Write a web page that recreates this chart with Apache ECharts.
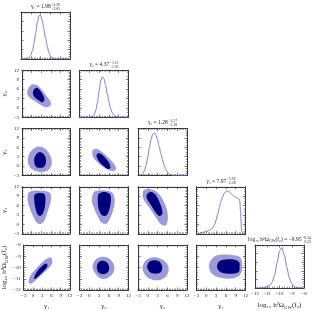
<!DOCTYPE html>
<html><head><meta charset="utf-8">
<script src="https://cdn.jsdelivr.net/npm/echarts@6/dist/echarts.min.js"></script>
<style>html,body{margin:0;padding:0;background:#fff}#c{width:317px;height:311px}</style>
</head><body><div id="c"></div>
<script>
// ---------- DATA ----------
const axisNames = ['γ₁','γ₂','γ₃','γ₄','{a|log₁₀ h²Ω}{s|GW}{a|(f₀)}'];
const gammaTicks = [-3, 0, 3, 6, 9, 12];
const logTicks = [-12, -11, -10, -9, -8];

const titleMain = [
  '{a|γ₁ = 1.98}', '{a|γ₂ = 4.37}', '{a|γ₃ = 1.28}', '{a|γ₄ = 7.97}',
  '{a|log₁₀ h²Ω}{s|GW}{a|(f₀) = −9.95}'
];
const titleUp = ['+1.20', '+1.11', '+1.57', '+1.92', '+0.34'];
const titleLo = ['−2.05', '−1.05', '−1.18', '−2.28', '−0.33'];

// 1D marginal densities
const gX = [-3,-2.5,-2,-1.5,-1,-0.5,0,0.5,1,1.5,2,2.5,3,3.5,4,4.5,5,5.5,6,6.5,7,7.5,8,8.5,9,9.5,10,10.5,11,11.5,12];
const g1Density = [0,0,0,0.003,0.01,0.03,0.08,0.18,0.34,0.55,0.78,0.92,0.93,0.82,0.64,0.45,0.28,0.15,0.07,0.03,0.01,0.003,0,0,0,0,0,0,0,0,0];
const g2Density = [0,0,0,0,0,0,0,0.005,0.02,0.06,0.15,0.32,0.56,0.78,0.86,0.82,0.68,0.5,0.33,0.19,0.1,0.045,0.018,0.005,0,0,0,0,0,0,0];
const g3Density = [0,0.005,0.015,0.04,0.1,0.22,0.4,0.6,0.77,0.88,0.91,0.86,0.75,0.61,0.47,0.33,0.22,0.13,0.07,0.035,0.015,0.005,0,0,0,0,0,0,0,0,0];
const g4X = [-3,-2.5,-2,-1.5,-1,-0.5,0,0.5,1,1.5,2,2.5,3,3.5,4,4.5,5,5.5,6,6.5,7,7.5,8,8.5,9,9.5,10,10.25,10.5,10.75,11,11.5,12];
const g4Density = [0,0.003,0.01,0.02,0.03,0.04,0.05,0.065,0.08,0.1,0.13,0.19,0.29,0.42,0.56,0.69,0.79,0.86,0.9,0.91,0.89,0.86,0.83,0.8,0.78,0.76,0.74,0.7,0.45,0.12,0.02,0,0];
const logX = [-12,-11.8,-11.6,-11.4,-11.2,-11,-10.8,-10.6,-10.4,-10.2,-10,-9.8,-9.6,-9.4,-9.2,-9,-8.8,-8.6,-8.4,-8.2,-8];
const logDensity = [0,0,0,0.005,0.015,0.03,0.06,0.13,0.3,0.58,0.86,0.94,0.76,0.48,0.24,0.1,0.035,0.01,0.003,0,0];

// 2D credible contours (data coordinates: [x, y])
const c10Outer = [[-1.4,4.8],[-0.8,6.6],[0.2,7.5],[1.6,7.3],[3.0,6.0],[4.6,3.9],[6.0,1.9],[5.8,0.6],[4.5,0.2],[3.0,0.8],[1.2,2.0],[-0.6,3.2]];
const c10Inner = [[0.4,4.6],[0.8,5.9],[1.6,6.4],[2.6,5.6],[3.6,4.0],[4.0,2.5],[3.3,1.8],[2.2,2.4],[1.0,3.4]];
const c20Outer = [[-1.2,1.5],[-0.9,3.5],[0.2,5.2],[1.8,6.2],[3.3,6.1],[4.8,5.0],[6.0,3.0],[6.3,0.8],[5.5,-1.0],[3.5,-1.9],[1.3,-1.6],[-0.4,-0.5]];
const c20Inner = [[0.8,1.6],[1.1,3.2],[2.0,4.3],[3.2,4.3],[4.2,3.2],[4.5,1.3],[3.9,-0.2],[2.6,-0.55],[1.4,-0.2]];
const c30Outer = [[-1.0,10.0],[0.5,10.7],[2.5,10.7],[4.5,10.6],[5.8,10.0],[6.1,8.5],[5.8,6.5],[5.0,4.0],[4.0,1.2],[2.8,0.1],[1.6,0.6],[0.5,2.5],[-0.5,5.0],[-1.2,7.5]];
const c30Inner = [[0.9,9.3],[1.8,9.9],[3.4,9.9],[4.2,9.2],[4.3,7.0],[3.9,4.5],[3.0,2.8],[2.0,3.0],[1.3,4.8],[0.9,7.0]];
const c40Outer = [[-1.4,-11.3],[-0.7,-11.45],[1.0,-11.1],[2.8,-10.65],[4.6,-10.2],[5.9,-9.8],[6.3,-9.4],[5.8,-9.1],[4.3,-9.25],[2.6,-9.65],[0.8,-10.15],[-0.9,-10.75]];
const c40Inner = [[0.3,-11.0],[1.2,-10.9],[2.6,-10.55],[4.0,-10.15],[4.7,-9.85],[4.3,-9.65],[2.8,-9.9],[1.3,-10.35]];
const c21Outer = [[0.9,4.6],[1.3,5.4],[2.4,5.5],[4.0,4.4],[5.8,2.7],[7.4,1.0],[8.2,-0.6],[7.6,-1.5],[6.0,-1.3],[4.2,-0.3],[2.4,1.3],[1.1,3.1]];
const c21Inner = [[2.2,3.3],[2.8,4.1],[3.8,3.7],[5.2,2.3],[6.3,0.6],[6.4,-0.6],[5.6,-0.9],[4.4,0.0],[3.0,1.5]];
const c31Outer = [[1.4,10.3],[3.0,10.8],[5.0,10.8],[6.8,10.3],[7.6,9.0],[7.8,7.0],[7.3,4.5],[6.4,2.0],[5.2,0.2],[3.8,0.5],[2.6,2.5],[1.5,5.0],[0.8,7.5]];
const c31Inner = [[2.8,9.6],[3.8,10.2],[5.3,10.2],[6.4,9.5],[6.6,7.5],[6.2,5.0],[5.3,2.9],[4.0,2.8],[3.0,4.5],[2.6,7.0]];
const c41Outer = [[1.0,-10.0],[1.4,-9.5],[2.6,-9.15],[4.3,-9.05],[6.0,-9.2],[7.3,-9.6],[7.7,-10.1],[7.0,-10.6],[5.4,-10.95],[3.8,-11.0],[2.3,-10.7]];
const c41Inner = [[2.3,-10.0],[2.8,-9.55],[4.0,-9.4],[5.4,-9.55],[6.1,-10.0],[5.6,-10.45],[4.2,-10.6],[2.9,-10.45]];
const c32Outer = [[-1.6,9.8],[-1.2,11.0],[0.3,11.3],[2.2,10.8],[3.8,9.2],[5.0,7.0],[5.9,4.5],[6.1,1.5],[5.4,-0.4],[4.0,0.0],[2.6,2.0],[1.0,4.5],[-0.6,6.8],[-1.5,8.5]];
const c32Inner = [[-0.4,9.0],[0.2,10.1],[1.5,10.2],[2.5,9.3],[3.4,7.5],[4.3,5.0],[4.4,3.2],[3.5,2.7],[2.4,3.8],[1.2,5.8],[0.1,7.5]];
const c42Outer = [[-1.6,-10.1],[-1.0,-9.5],[0.6,-9.15],[2.6,-9.1],[4.6,-9.3],[6.0,-9.7],[6.4,-10.2],[5.6,-10.8],[3.8,-11.1],[1.6,-11.1],[-0.4,-10.8]];
const c42Inner = [[-0.2,-9.95],[0.4,-9.5],[1.8,-9.35],[3.4,-9.45],[4.4,-9.9],[4.0,-10.4],[2.4,-10.55],[0.8,-10.45]];
const c43Outer = [[0.8,-9.9],[1.4,-9.35],[3.0,-8.95],[5.5,-8.85],[8.5,-8.9],[10.4,-9.1],[11.0,-9.7],[10.8,-10.4],[9.5,-10.85],[6.5,-11.0],[3.5,-10.85],[1.6,-10.5]];
const c43Inner = [[3.3,-9.9],[4.0,-9.45],[6.0,-9.28],[8.6,-9.3],[10.0,-9.5],[10.2,-10.0],[9.9,-10.4],[8.0,-10.55],[5.5,-10.5],[3.9,-10.3]];

// ---------- STYLE / LAYOUT ----------
const FONT = 'Liberation Serif';
const LIGHT = '#9b9bd8', DARK = '#00007f', LINE = '#5c5cc4', FRAME = '#3a3a3a';
const L0 = 21, T0 = 12, PX = 58.5, PY = 58.25, W = 49, H = 47;

const diag = [[gX,g1Density],[gX,g2Density],[gX,g3Density],[g4X,g4Density],[logX,logDensity]];
const contours = {
  '1,0':[c10Outer,c10Inner], '2,0':[c20Outer,c20Inner], '3,0':[c30Outer,c30Inner], '4,0':[c40Outer,c40Inner],
  '2,1':[c21Outer,c21Inner], '3,1':[c31Outer,c31Inner], '4,1':[c41Outer,c41Inner],
  '3,2':[c32Outer,c32Inner], '4,2':[c42Outer,c42Inner], '4,3':[c43Outer,c43Inner]
};

function range(i){
  const t = i === 4 ? logTicks : gammaTicks;
  return {min:t[0], max:t[t.length-1], interval:t[1]-t[0], minor: i===4 ? 5 : 6};
}
const richName = {
  a:{fontFamily:FONT,fontSize:7,color:'#222',lineHeight:9},
  s:{fontFamily:FONT,fontSize:4.8,color:'#222',lineHeight:9,verticalAlign:'bottom',padding:[3,0,0,0]}
};
function axisCfg(dim, gi, rg, pos, labels, name){
  return {
    type:'value', gridIndex:gi, position:pos, min:rg.min, max:rg.max, interval:rg.interval,
    axisLine:{show:true,onZero:false,lineStyle:{color:FRAME,width:1}},
    axisTick:{show:true,inside:true,length:2.5,lineStyle:{color:FRAME,width:0.7}},
    minorTick:{show:true,splitNumber:rg.minor,length:1.3,lineStyle:{color:FRAME,width:0.6}},
    splitLine:{show:false}, minorSplitLine:{show:false},
    axisLabel:{show:labels,fontSize:5,fontFamily:FONT,color:'#222',margin:3,
      showMinLabel:true,showMaxLabel:true,hideOverlap:false,
      formatter:v => (v<0 ? '−'+Math.abs(v) : String(v))},
    name:name||'', nameLocation:'middle', nameGap: dim==='x' ? 13 : 14, nameRotate: dim==='y' ? 90 : 0,
    nameTextStyle:{fontFamily:FONT,fontSize:7,color:'#222',rich:richName},
    axisPointer:{show:false}
  };
}

const grids=[], xAxes=[], yAxes=[], series=[], graphics=[];
for (let r=0;r<5;r++) for (let c=0;c<=r;c++){
  const gi = grids.length;
  grids.push({left:L0+c*PX, top:T0+r*PY, width:W, height:H});
  const xr = range(c);
  const yr = r===c ? {min:0,max:1,interval:0.2,minor:4} : range(r);
  const showX = r===4, showY = (c===0 && r>0);
  xAxes.push(axisCfg('x',gi,xr,'bottom',showX,showX?axisNames[c]:null));
  xAxes.push(axisCfg('x',gi,xr,'top',false,null));
  yAxes.push(axisCfg('y',gi,yr,'left',showY,showY?axisNames[r]:null));
  yAxes.push(axisCfg('y',gi,yr,'right',false,null));
  if (r===c){
    const [xs, ys] = diag[c];
    series.push({type:'line', xAxisIndex:2*gi, yAxisIndex:2*gi, data: xs.map((x,k)=>[x,ys[k]]),
      showSymbol:false, smooth:0.3, smoothMonotone:'x', silent:true, clip:true,
      lineStyle:{color:LINE,width:0.8}});
  } else {
    const [outer, inner] = contours[r+','+c];
    [[outer,LIGHT],[inner,DARK]].forEach(([pts,col],k)=>{
      series.push({type:'custom', coordinateSystem:'cartesian2d', xAxisIndex:2*gi, yAxisIndex:2*gi,
        data:pts, encode:{x:0,y:1}, silent:true, clip:true, z:2+k,
        renderItem:(params, api)=>{
          if (params.dataIndex!==0) return null;
          return {type:'polygon', shape:{points:pts.map(p=>api.coord(p)), smooth:0.35}, style:{fill:col}};
        }});
    });
  }
}

// titles above diagonal panels
const mctx = document.createElement('canvas').getContext('2d');
function tw(txt, fs){ mctx.font = fs+'px "'+FONT+'"'; return mctx.measureText(txt).width; }
const TF = 5.5, SF = 3.8;
const titleRich = {
  a:{fontFamily:FONT,fontSize:TF,fill:'#222',lineHeight:7},
  s:{fontFamily:FONT,fontSize:4,fill:'#222',lineHeight:7,verticalAlign:'bottom',padding:[2,0,0,0]}
};
for (let c=0;c<5;c++){
  const cx = L0 + c*PX + W/2, cy = T0 + c*PY - 5.5;
  const parts = titleMain[c].match(/\{(\w)\|([^}]*)\}/g).map(s=>{const m=s.match(/\{(\w)\|([^}]*)\}/);return [m[1],m[2]];});
  const mainW = parts.reduce((a,[k,t])=>a+tw(t, k==='a'?TF:4),0);
  const supW = Math.max(tw(titleUp[c],SF), tw(titleLo[c],SF));
  const x0 = cx - (mainW + 0.6 + supW)/2;
  graphics.push({type:'text', x:x0, y:cy, z:100,
    style:{text:titleMain[c], rich:titleRich, x:0, y:0, textAlign:'left', align:'left', textVerticalAlign:'middle', verticalAlign:'middle', fill:'#222', font:TF+'px "'+FONT+'"'}});
  graphics.push({type:'text', x:x0+mainW+0.6, y:cy-1.9, z:100,
    style:{text:titleUp[c], x:0, y:0, textAlign:'left', align:'left', textVerticalAlign:'middle', verticalAlign:'middle', fill:'#222', font:SF+'px "'+FONT+'"'}});
  graphics.push({type:'text', x:x0+mainW+0.6, y:cy+2.1, z:100,
    style:{text:titleLo[c], x:0, y:0, textAlign:'left', align:'left', textVerticalAlign:'middle', verticalAlign:'middle', fill:'#222', font:SF+'px "'+FONT+'"'}});
}

const chart = echarts.init(document.getElementById('c'), null, {renderer:'canvas', width:317, height:311});
chart.setOption({
  animation:false, backgroundColor:'#fff',
  grid:grids, xAxis:xAxes, yAxis:yAxes, series:series, graphic:graphics
});
</script>
</body></html>
